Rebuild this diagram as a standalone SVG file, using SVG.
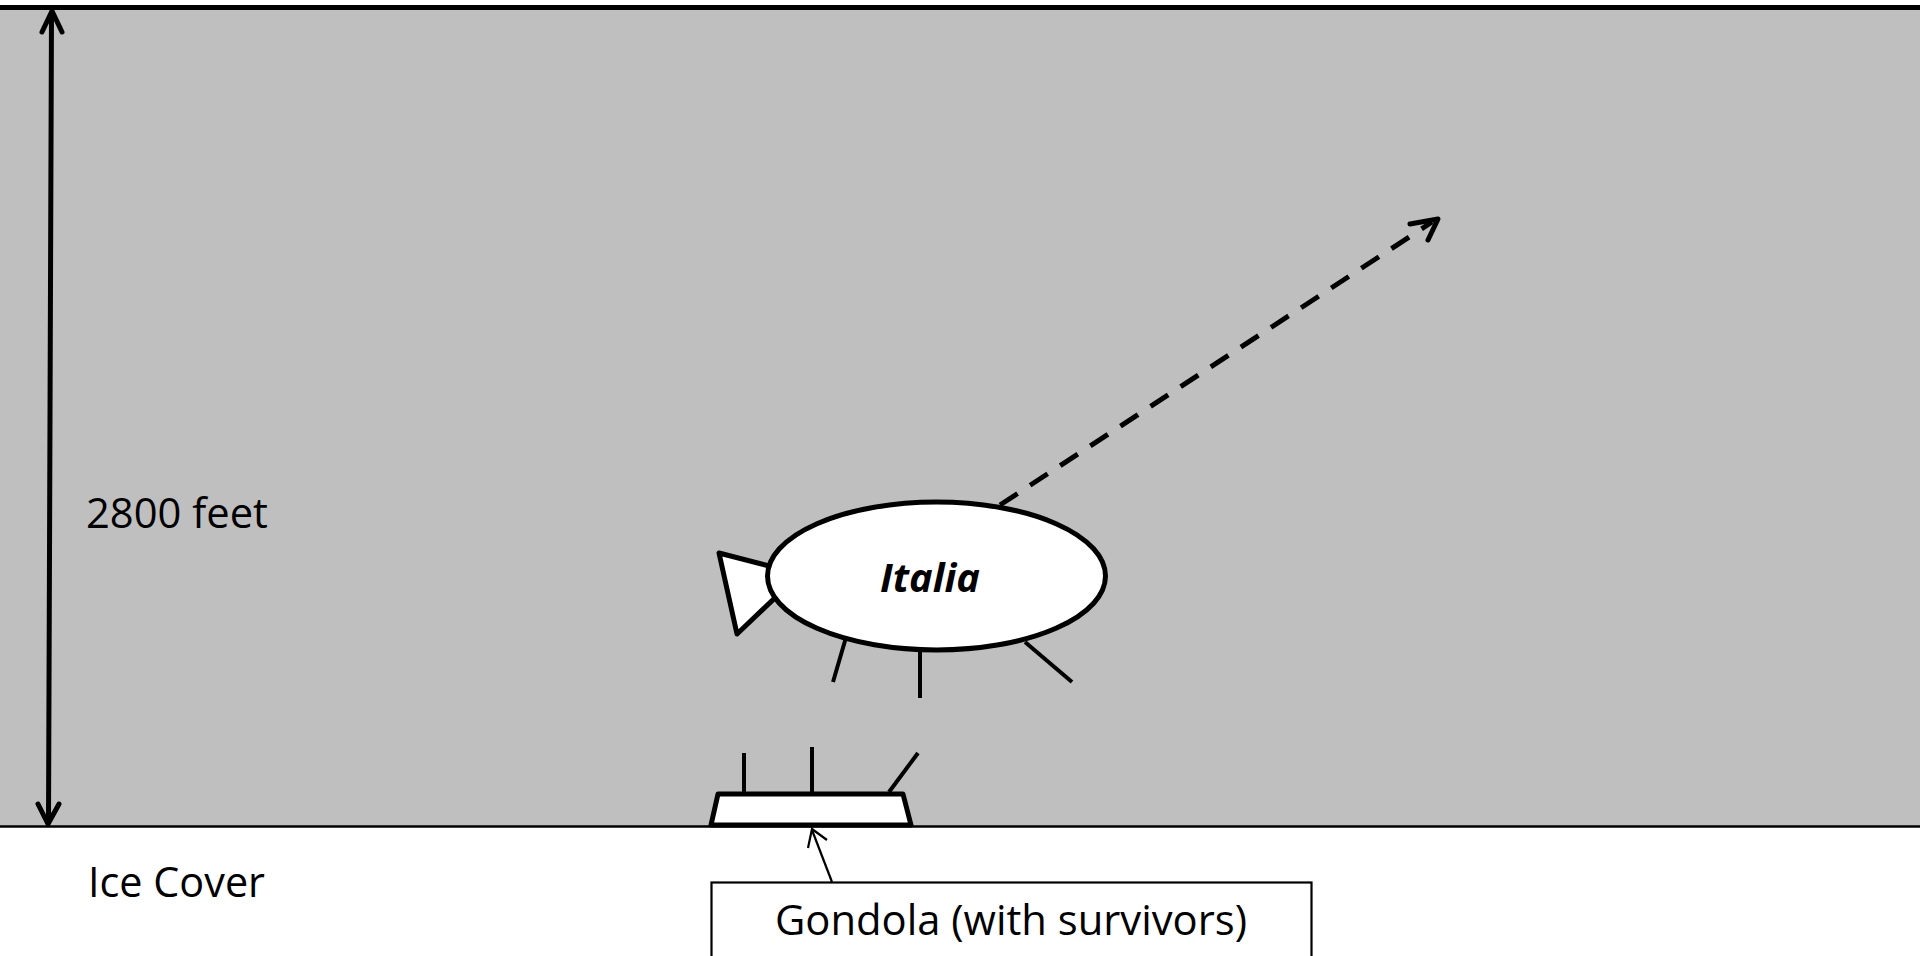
<svg xmlns="http://www.w3.org/2000/svg" width="1920" height="956" viewBox="0 0 1920 956">
  <defs>
    <style>
      .label { font-family: "Open Sans", "Liberation Sans", sans-serif; font-size: 42px; fill: #000; }
      .ship { fill: #fff; stroke: #000; stroke-width: 5; stroke-linejoin: round; }
      .rig { stroke: #000; stroke-width: 4; fill: none; }
      .dim { stroke: #000; stroke-width: 5; fill: none; stroke-linecap: round; stroke-linejoin: round; }
    </style>
  </defs>

  <!-- sky / altitude band -->
  <rect x="0" y="0" width="1920" height="956" fill="#fff"/>
  <rect x="0" y="10" width="1920" height="816" fill="#BFBFBF"/>
  <line x1="0" y1="7.5" x2="1920" y2="7.5" stroke="#000" stroke-width="5"/>
  <line x1="0" y1="826.5" x2="1920" y2="826.5" stroke="#000" stroke-width="2.5"/>

  <!-- altitude dimension -->
  <g id="altitude">
    <line class="dim" x1="51.5" y1="13" x2="48.5" y2="822"/>
    <polyline class="dim" points="42,32 52,11 62,32"/>
    <polyline class="dim" points="38,804 48,824 59,804"/>
    <text class="label" x="86" y="528" textLength="182" lengthAdjust="spacingAndGlyphs">2800 feet</text>
  </g>

  <g id="ice-cover">
    <text class="label" x="88" y="897" textLength="177" lengthAdjust="spacingAndGlyphs">Ice Cover</text>
  </g>

  <!-- connectors -->
  <g id="connectors">
    <!-- airship drifting away -->
    <line x1="1000" y1="505" x2="1432" y2="222" stroke="#000" stroke-width="5" stroke-dasharray="21 15"/>
    <polyline points="1410,224 1438,219 1428,240" fill="none" stroke="#000" stroke-width="5" stroke-linecap="round" stroke-linejoin="round"/>
    <!-- label pointer to gondola -->
    <line x1="832" y1="882" x2="812" y2="830" stroke="#000" stroke-width="2.2"/>
    <polyline points="808,848 812,829 827,840" fill="none" stroke="#000" stroke-width="2.2" stroke-linejoin="miter"/>
  </g>

  <!-- airship Italia -->
  <g id="italia">
    <polygon class="ship" points="719,553 737,634 800,574"/>
    <line class="rig" x1="847" y1="634" x2="833" y2="682"/>
    <line class="rig" x1="920" y1="650" x2="920" y2="698"/>
    <line class="rig" x1="1025" y1="642" x2="1072" y2="682"/>
    <ellipse class="ship" cx="936.5" cy="576" rx="169" ry="74"/>
    <text x="930" y="592" text-anchor="middle" font-family="'Open Sans', 'Liberation Sans', sans-serif" font-size="40" font-weight="bold" font-style="italic" textLength="100" lengthAdjust="spacingAndGlyphs">Italia</text>
  </g>

  <!-- gondola on the ice -->
  <g id="gondola">
    <line class="rig" x1="744" y1="753" x2="744" y2="797"/>
    <line class="rig" x1="812" y1="747" x2="812" y2="793"/>
    <line class="rig" x1="918" y1="753" x2="889" y2="792"/>
    <polygon class="ship" points="718,794 903,794 911,825 711,825"/>
  </g>

  <g id="gondola-label">
    <rect x="711.5" y="882.5" width="600" height="80" fill="#fff" stroke="#000" stroke-width="2.2"/>
    <text class="label" x="775" y="935" textLength="472" lengthAdjust="spacingAndGlyphs" font-size="40">Gondola (with survivors)</text>
  </g>
</svg>
